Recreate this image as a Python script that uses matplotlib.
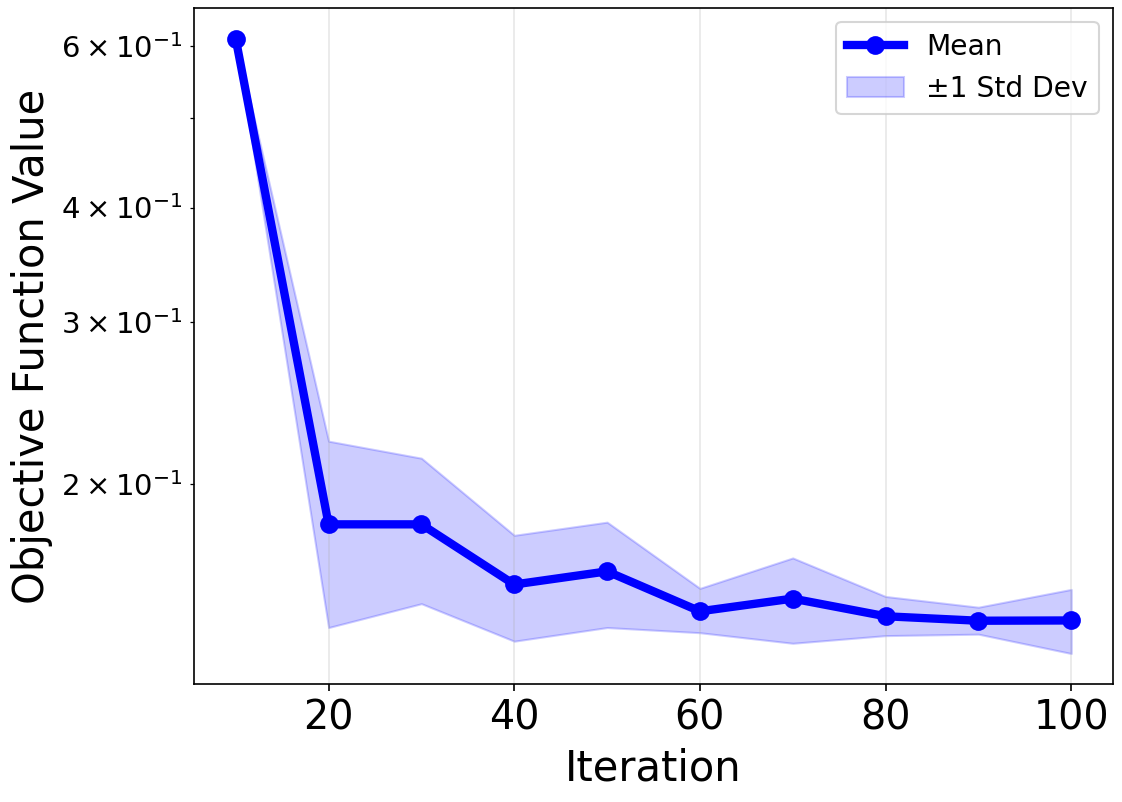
import matplotlib
matplotlib.use("Agg")
import matplotlib.pyplot as plt
import numpy as np

plt.rcParams['font.size'] = 14

# values
iterations = [10, 20, 30, 40, 50, 60, 70, 80, 90, 100]
mean_vals = [0.610, 0.1810, 0.1810, 0.1557, 0.1609, 0.1456, 0.1503, 0.1438, 0.1422, 0.1423]
upper_vals = [0.611, 0.2229, 0.2136, 0.1761, 0.1820, 0.1542, 0.1664, 0.1511, 0.1471, 0.1538]
lower_vals = [0.609, 0.1398, 0.1484, 0.1351, 0.1398, 0.1380, 0.1344, 0.1370, 0.1375, 0.1310]

fig, ax = plt.subplots(figsize=(1122 / 150, 802 / 150), dpi=150)
fig.subplots_adjust(left=0.1729, right=0.992, top=0.9906, bottom=0.1468)

ax.plot(iterations, mean_vals, 'o-', color='blue', linewidth=4, markersize=8, label='Mean')
ax.fill_between(iterations, lower_vals, upper_vals, color='blue', alpha=0.2, label='±1 Std Dev')

ax.set_yscale('log')
ax.set_xlabel('Iteration', fontsize=20)
ax.set_ylabel('Objective Function Value', fontsize=20)
ax.tick_params(labelsize=19)
ax.grid(True, alpha=0.3)
ax.legend(loc='upper right', fontsize=13.5)

fig.savefig('out.png', dpi=150)
